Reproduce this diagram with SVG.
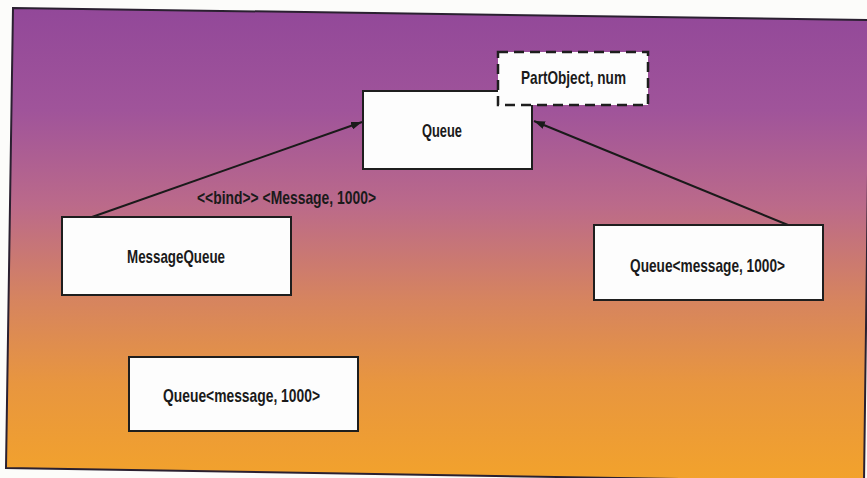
<svg xmlns="http://www.w3.org/2000/svg" width="867" height="478" viewBox="0 0 867 478">
<defs>
<linearGradient id="bg" gradientUnits="userSpaceOnUse" x1="0" y1="8" x2="0" y2="478">
<stop offset="0" stop-color="#924899"/>
<stop offset="0.22" stop-color="#a0549a"/>
<stop offset="0.42" stop-color="#bb6a8a"/>
<stop offset="0.62" stop-color="#d6845f"/>
<stop offset="0.8" stop-color="#e8963f"/>
<stop offset="1" stop-color="#f2a22c"/>
</linearGradient>
<marker id="arr" markerUnits="userSpaceOnUse" markerWidth="11" markerHeight="8" refX="11" refY="4" orient="auto">
<path d="M0,0 L11,4 L0,8 z" fill="#1a1a1a"/>
</marker>
<style>
.box{fill:#fdfdfd;stroke:#1e1e1e;stroke-width:2}
.dash{fill:#fdfdfd;stroke:#1e1e1e;stroke-width:2.5;stroke-dasharray:10 6}
.t{font-family:"Liberation Sans Narrow","Liberation Sans",Arial,sans-serif;font-weight:bold;font-size:18.5px;fill:#1a1a1a}
.conn{stroke:#1a1a1a;stroke-width:2;fill:none}
</style>
</defs>
<rect x="0" y="0" width="867" height="478" fill="#fcfcfa"/>
<polygon points="13,8 870,20 864,482 6,468" fill="url(#bg)" stroke="#2a2030" stroke-width="2"/>
<g id="connectors">
<line class="conn" x1="92" y1="217" x2="362" y2="122" marker-end="url(#arr)"/>
<line class="conn" x1="788" y1="225" x2="534" y2="121" marker-end="url(#arr)"/>
<text class="t" x="197" y="204" textLength="179" lengthAdjust="spacingAndGlyphs">&lt;&lt;bind&gt;&gt; &lt;Message, 1000&gt;</text>
</g>
<g id="queue">
<rect class="box" x="363" y="91" width="169" height="78"/>
<text class="t" x="422" y="137" textLength="40" lengthAdjust="spacingAndGlyphs">Queue</text>
</g>
<g id="partobject">
<rect class="dash" x="498" y="52" width="150" height="53"/>
<text class="t" x="521" y="84" textLength="105" lengthAdjust="spacingAndGlyphs">PartObject, num</text>
</g>
<g id="messagequeue">
<rect class="box" x="62" y="217" width="229" height="78"/>
<text class="t" x="127" y="263" textLength="98" lengthAdjust="spacingAndGlyphs">MessageQueue</text>
</g>
<g id="queue-bound-right">
<rect class="box" x="594" y="225" width="229" height="75"/>
<text class="t" x="630" y="272" textLength="155" lengthAdjust="spacingAndGlyphs">Queue&lt;message, 1000&gt;</text>
</g>
<g id="queue-bound-bottom">
<rect class="box" x="129" y="357" width="229" height="74"/>
<text class="t" x="163" y="402" textLength="157" lengthAdjust="spacingAndGlyphs">Queue&lt;message, 1000&gt;</text>
</g>
</svg>
